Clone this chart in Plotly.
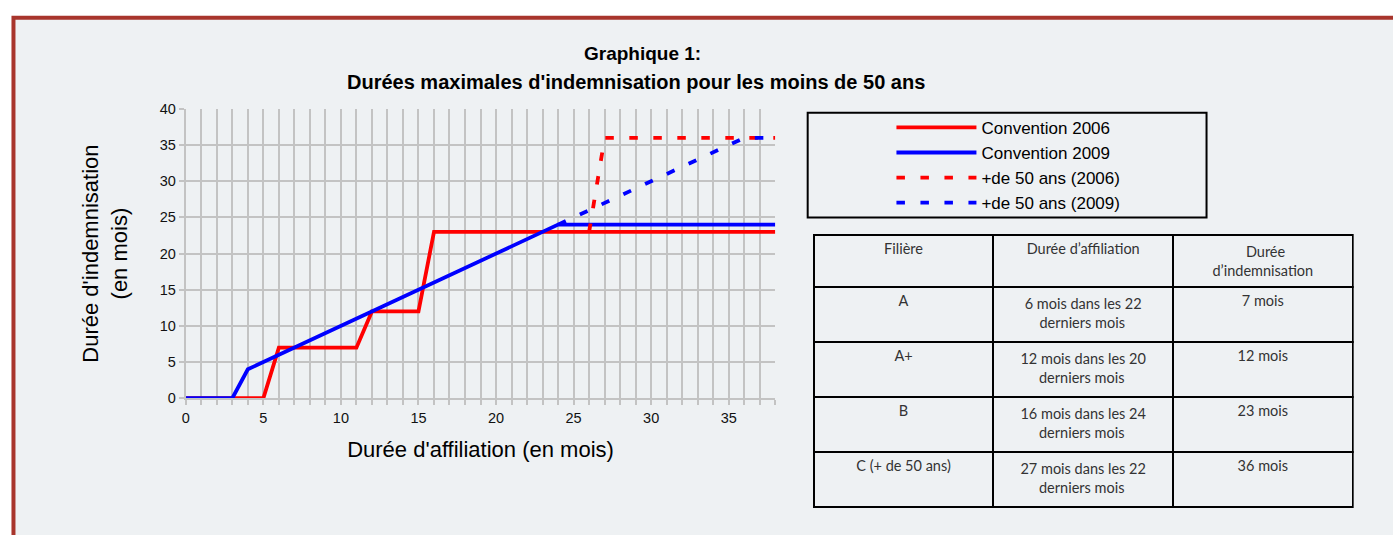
import plotly.graph_objects as go

W, H = 1393, 535

# ---- data ----
x_2006 = [0, 5, 6, 11, 12, 15, 16, 38]
y_2006 = [0, 0, 7, 7, 12, 12, 23, 23]
x_2009 = [0, 3, 4, 24, 38]
y_2009 = [0, 0, 4, 24, 24]
x_50_2006 = [26, 27, 38]
y_50_2006 = [23, 36, 36]
x_50_2009 = [24, 36, 38]
y_50_2009 = [24, 36, 36]

series_names = ["Convention 2006", "Convention 2009", "+de 50 ans (2006)", "+de 50 ans (2009)"]

NB = "\u00a0"
tbl_header = ["Filière", "Durée d’affiliation", NB * 9 + "Durée<br>d’indemnisation"]
tbl_filiere = ["A", "A+", "B", "C (+ de 50 ans)"]
tbl_affiliation = ["6 mois dans les 22<br>" + NB * 4 + "derniers mois",
                   "12 mois dans les 20<br>" + NB * 5 + "derniers mois",
                   "16 mois dans les 24<br>" + NB * 5 + "derniers mois",
                   "27 mois dans les 22<br>" + NB * 5 + "derniers mois"]
tbl_indemnisation = ["7 mois", "12 mois", "23 mois", "36 mois"]

title_line1 = "Graphique 1:"
title_line2 = "Durées maximales d'indemnisation pour les moins de 50 ans"

RED = "#FF0000"
BLUE = "#0000FF"
GRID = "#C3C3C3"
FONT = "Liberation Sans, Arial, sans-serif"
TFONT = "Lato, Carlito, sans-serif"


def px(x):
    return x / W


def py(y):
    return 1 - y / H


fig = go.Figure()
lw = 3.8
dash = "8.5px,15.5px"
fig.add_trace(go.Scatter(x=x_2006, y=y_2006, mode="lines", name=series_names[0],
                         line=dict(color=RED, width=lw)))
fig.add_trace(go.Scatter(x=x_2009, y=y_2009, mode="lines", name=series_names[1],
                         line=dict(color=BLUE, width=lw)))
fig.add_trace(go.Scatter(x=x_50_2006, y=y_50_2006, mode="lines", name=series_names[2],
                         line=dict(color=RED, width=lw, dash=dash)))
fig.add_trace(go.Scatter(x=x_50_2009, y=y_50_2009, mode="lines", name=series_names[3],
                         line=dict(color=BLUE, width=lw, dash=dash)))

fig.add_trace(go.Table(
    domain=dict(x=[px(812), px(1353)], y=[py(525), py(234)]),
    columnwidth=[1, 1, 1],
    header=dict(values=tbl_header, height=46, align="center",
                fill=dict(color="rgba(0,0,0,0)"),
                line=dict(color="black", width=2),
                font=dict(family=TFONT, size=14.5, color="#333333")),
    cells=dict(values=[tbl_filiere, tbl_affiliation, tbl_indemnisation], height=55, align="center",
               fill=dict(color="rgba(0,0,0,0)"),
               line=dict(color="black", width=2),
               font=dict(family=TFONT, size=14.5, color="#333333")),
))

fig.update_layout(
    width=W, height=H, autosize=False,
    margin=dict(l=0, r=0, t=0, b=0),
    paper_bgcolor="white",
    plot_bgcolor="rgba(0,0,0,0)",
    font=dict(family=FONT, color="#000000"),
    showlegend=True,
    legend=dict(x=px(890), y=py(105), xanchor="left", yanchor="top",
                bgcolor="rgba(0,0,0,0)", borderwidth=0, itemwidth=80,
                font=dict(family=FONT, size=17, color="#000000"),
                traceorder="normal"),
    xaxis=dict(domain=[px(182.3), px(773.5)], range=[0, 38], tick0=0, dtick=5,
               showgrid=True, gridcolor=GRID, gridwidth=1.5,
               ticks="outside", ticklen=5, tickcolor=GRID, tickwidth=1.5,
               minor=dict(dtick=1, showgrid=True, gridcolor=GRID, gridwidth=1.5,
                          ticks="outside", ticklen=5, tickcolor=GRID, tickwidth=1.5),
               showline=True, linecolor=GRID, linewidth=2, zeroline=False,
               tickfont=dict(size=14.5, color="#111111"),
               title=dict(text="Durée d'affiliation (en mois)", font=dict(size=22), standoff=17)),
    yaxis=dict(domain=[py(402.3), py(104)], range=[0, 40], tick0=0, dtick=5,
               showgrid=True, gridcolor=GRID, gridwidth=1.5,
               ticks="outside", ticklen=5, tickcolor=GRID, tickwidth=1.5,
               showline=True, linecolor=GRID, linewidth=2, zeroline=False,
               tickfont=dict(size=14.5, color="#111111"),
               title=dict(text="Durée d'indemnisation<br>(en mois)", font=dict(size=22), standoff=26)),
    shapes=[
        # page frame
        dict(type="rect", xref="paper", yref="paper", x0=px(9.5), x1=1.05, y0=-0.05, y1=py(10),
             fillcolor="#EEF1F3", line=dict(color="#A8352C", width=4), layer="below"),
        # legend box
        dict(type="rect", xref="paper", yref="paper", x0=px(806), x1=px(1206), y0=py(216), y1=py(108),
             fillcolor="rgba(0,0,0,0)", line=dict(color="black", width=2), layer="above"),
    ],
    annotations=[
        dict(text="<b>" + title_line1 + "</b>", xref="paper", yref="paper", x=px(640), y=py(47),
             xanchor="center", yanchor="middle", showarrow=False, font=dict(size=19, family=FONT)),
        dict(text="<b>" + title_line2 + "</b>", xref="paper", yref="paper", x=px(634), y=py(76),
             xanchor="center", yanchor="middle", showarrow=False, font=dict(size=20, family=FONT)),
    ],
)

post = ("var gd=document.getElementById('{plot_id}');"
        "gd.style.position='fixed';gd.style.top='0px';gd.style.left='0px';"
        "document.documentElement.style.margin='0';document.documentElement.style.padding='0';"
        "document.documentElement.style.overflow='hidden';"
        "document.body.style.margin='0';document.body.style.padding='0';document.body.style.overflow='hidden';")
fig.write_html("out.html", post_script=post, config={"displayModeBar": False})
